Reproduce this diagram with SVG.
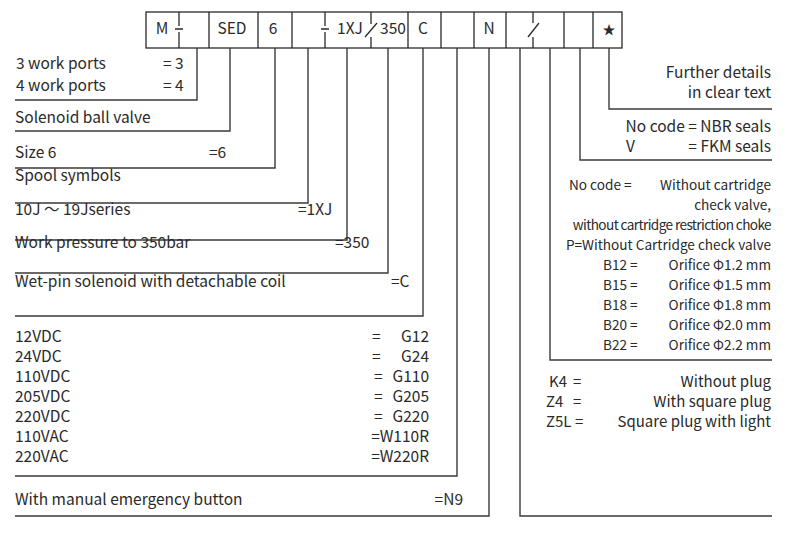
<svg xmlns="http://www.w3.org/2000/svg" width="800" height="538" viewBox="0 0 800 538">
<style>
text{font-family:"Noto Sans CJK SC","Noto Sans",sans-serif;font-size:15.5px;fill:#2a2a2a}
.c{text-anchor:middle}
.e{text-anchor:end}
.sm{font-size:13.6px}
.md{font-size:15px}
.box{fill:none;stroke:#2a2a2a;stroke-width:1.3}
.ln{fill:none;stroke:#3a3a3a;stroke-width:1.4}
</style>
<rect width="800" height="538" fill="#fff"/>
<g id="code-boxes">
<rect class="box" x="146" y="12" width="476" height="36"/>
<path class="box" d="M209 12V48M258 12V48M292 12V48M408 12V48M441 12V48M474 12V48M506 12V48M564 12V48M593 12V48"/>
<path class="box" d="M179 12V26M179 32V48M175 29H183M325 12V26M325 32V48M321 29H329M371 12V24M371 37V48M365 37L377 23M533 12V23M533 37V48M528 37L539 23"/>
<text class="c" x="162" y="34">M</text>
<text class="c" x="232" y="34">SED</text>
<text class="c" x="273" y="34">6</text>
<text class="c" x="350" y="34">1XJ</text>
<text class="c" x="393" y="34">350</text>
<text class="c" x="423" y="34">C</text>
<text class="c" x="489" y="34">N</text>
<text class="c" x="609" y="34" style="font-size:13px">★</text>
</g>
<g id="connectors">
<path class="ln" d="M197 48V100H15"/>
<path class="ln" d="M230 48V131H15"/>
<path class="ln" d="M275 48V168H15"/>
<path class="ln" d="M308 48V203H15"/>
<path class="ln" d="M347 48V240H15"/>
<path class="ln" d="M388 48V273H15"/>
<path class="ln" d="M423 48V316H15"/>
<path class="ln" d="M457 48V476H15"/>
<path class="ln" d="M489 48V516H15"/>
<path class="ln" d="M520 48V516H772"/>
<path class="ln" d="M550 48V360H772"/>
<path class="ln" d="M580 48V160H772"/>
<path class="ln" d="M609 48V109H772"/>
</g>
<g id="work-ports">
<text x="16" y="69">3 work ports</text><text x="163" y="69">= 3</text>
<text x="16" y="91">4 work ports</text><text x="163" y="91">= 4</text>
</g>
<g id="valve-type"><text x="15" y="123">Solenoid ball valve</text></g>
<g id="size"><text x="15" y="158">Size 6</text><text x="209" y="158">=6</text></g>
<g id="spool"><text x="15" y="181">Spool symbols</text></g>
<g id="series"><text x="15" y="215">10J ～ 19Jseries</text><text x="298" y="215">=1XJ</text></g>
<g id="pressure"><text x="15" y="248">Work pressure to 350bar</text><text x="335" y="248">=350</text></g>
<g id="solenoid"><text x="15" y="287">Wet-pin solenoid with detachable coil</text><text x="391" y="287">=C</text></g>
<g id="voltage">
<text x="15" y="342">12VDC</text><text x="372" y="342">=</text><text class="e" x="429" y="342">G12</text>
<text x="15" y="362">24VDC</text><text x="372" y="362">=</text><text class="e" x="429" y="362">G24</text>
<text x="15" y="382">110VDC</text><text x="374" y="382">=</text><text class="e" x="429" y="382">G110</text>
<text x="15" y="402">205VDC</text><text x="374" y="402">=</text><text class="e" x="429" y="402">G205</text>
<text x="15" y="422">220VDC</text><text x="374" y="422">=</text><text class="e" x="429" y="422">G220</text>
<text x="15" y="442">110VAC</text><text class="e" x="429" y="442">=W110R</text>
<text x="15" y="462">220VAC</text><text class="e" x="429" y="462">=W220R</text>
</g>
<g id="manual"><text x="15" y="505">With manual emergency button</text><text class="e" x="463" y="505">=N9</text></g>
<g id="further"><text class="e" x="771" y="78">Further details</text><text class="e" x="771" y="98">in clear text</text></g>
<g id="seals">
<text class="e" x="771" y="132">No code = NBR seals</text>
<text x="626" y="152">V</text><text class="e" x="771" y="152">= FKM seals</text>
</g>
<g id="orifice">
<text class="sm" x="569" y="190">No code =</text><text class="e sm" x="771" y="190">Without cartridge</text>
<text class="e sm" x="771" y="210">check valve,</text>
<text class="e sm" x="771" y="230" style="letter-spacing:-0.6px">without cartridge restriction choke</text>
<text class="e sm" x="771" y="250">P=Without Cartridge check valve</text>
<text class="sm" x="603" y="270">B12 =</text><text class="e sm" x="771" y="270">Orifice Φ1.2 mm</text>
<text class="sm" x="603" y="290">B15 =</text><text class="e sm" x="771" y="290">Orifice Φ1.5 mm</text>
<text class="sm" x="603" y="310">B18 =</text><text class="e sm" x="771" y="310">Orifice Φ1.8 mm</text>
<text class="sm" x="603" y="330">B20 =</text><text class="e sm" x="771" y="330">Orifice Φ2.0 mm</text>
<text class="sm" x="603" y="350">B22 =</text><text class="e sm" x="771" y="350">Orifice Φ2.2 mm</text>
</g>
<g id="plug">
<text class="md" x="549" y="387">K4</text><text class="md" x="573" y="387">=</text><text class="e md" x="771" y="387">Without plug</text>
<text class="md" x="546" y="407">Z4</text><text class="md" x="573" y="407">=</text><text class="e md" x="771" y="407">With square plug</text>
<text class="md" x="546" y="427">Z5L =</text><text class="e md" x="771" y="427">Square plug with light</text>
</g>
</svg>
